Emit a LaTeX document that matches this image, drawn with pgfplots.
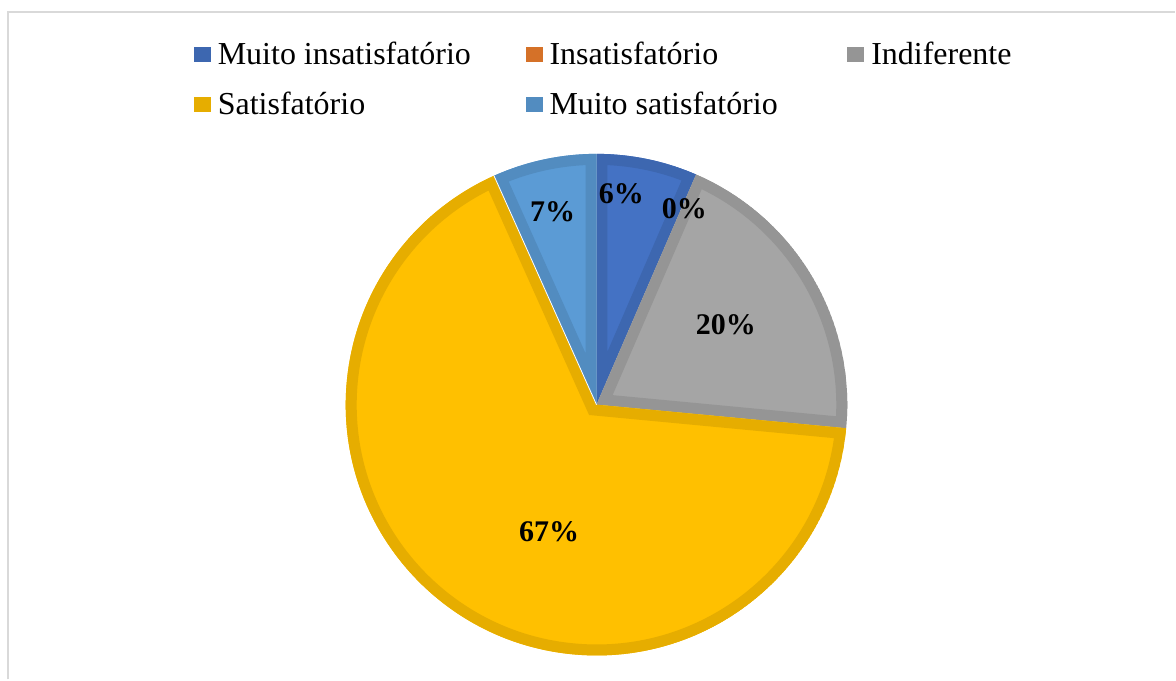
\documentclass[border=0pt]{standalone}
\usepackage{fontspec}
\setmainfont{Liberation Serif}
\usepackage{pgfplots}
\pgfplotsset{compat=1.18}

\definecolor{c1}{HTML}{4472C4}\definecolor{c1d}{HTML}{3D67B0}
\definecolor{c2}{HTML}{ED7D31}\definecolor{c2d}{HTML}{D57128}
\definecolor{c3}{HTML}{A5A5A5}\definecolor{c3d}{HTML}{959595}
\definecolor{c4}{HTML}{FFC000}\definecolor{c4d}{HTML}{E6AD00}
\definecolor{c5}{HTML}{5B9BD5}\definecolor{c5d}{HTML}{528CC0}
\definecolor{framegray}{HTML}{D9D9D9}

% data (percent)
\def\vA{6.5}  % Muito insatisfatorio
\def\vB{0}    % Insatisfatorio
\def\vC{20}   % Indiferente
\def\vD{66.8} % Satisfatorio
\def\vE{6.7}  % Muito satisfatorio

\pgfmathsetmacro\aA{90}
\pgfmathsetmacro\aB{\aA-3.6*\vA}
\pgfmathsetmacro\aC{\aB-3.6*\vB}
\pgfmathsetmacro\aD{\aC-3.6*\vC}
\pgfmathsetmacro\aE{\aD-3.6*\vD}
\pgfmathsetmacro\aF{\aE-3.6*\vE}

\newcommand\wedgepath[2]{(axis cs:597,275) -- ++(#1:125.5pt) arc[start angle=#1,end angle=#2,radius=125.5pt] -- cycle}
\newcommand\pieslice[4]{%
  \begin{scope}
    \clip \wedgepath{#1}{#2};
    \fill[#3] \wedgepath{#1}{#2};
    \draw[#4, line width=11pt, line join=miter] \wedgepath{#1}{#2};
  \end{scope}}

\begin{document}
\begin{tikzpicture}
\begin{axis}[
  width=588pt, height=340pt, scale only axis,
  xmin=0, xmax=1176, ymin=0, ymax=680,
  hide axis, clip=false,
  legend columns=3,
  legend cell align=left,
  legend image code/.code={\fill[#1] (0pt,-2.25pt) rectangle (8.5pt,5.25pt); \path[fill=none,draw=none] (0pt,-2.25pt) rectangle (12pt,5.25pt);},
  legend style={draw=none, fill=none, at={(axis cs:194,637)}, anchor=north west,
    font=\fontsize{16}{19}\selectfont, inner sep=0pt, outer sep=0pt,
    row sep=10pt, column sep=0pt,
    nodes={inner sep=0pt, outer sep=0pt, text height=11pt, text depth=4pt}},
]
\addlegendimage{fill=c1d, draw=none}
\addlegendentry{\makebox[154pt][l]{Muito insatisfatório}}
\addlegendimage{fill=c2d, draw=none}
\addlegendentry{\makebox[149pt][l]{Insatisfatório}}
\addlegendimage{fill=c3d, draw=none}
\addlegendentry{Indiferente}
\addlegendimage{fill=c4d, draw=none}
\addlegendentry{\makebox[154pt][l]{Satisfatório}}
\addlegendimage{fill=c5d, draw=none}
\addlegendentry{\makebox[149pt][l]{Muito satisfatório}}

\pgfplotsextra{
  \path (axis cs:0,0) rectangle (axis cs:1176,680);
  \draw[framegray, line width=1pt] (axis cs:8,0) -- (axis cs:8,668) -- (axis cs:1176,668);
  \pieslice{\aA}{\aB}{c1}{c1d}
  \pieslice{\aC}{\aD}{c3}{c3d}
  \pieslice{\aD}{\aE}{c4}{c4d}
  \pieslice{\aE}{\aF}{c5}{c5d}
  \draw[white, line width=0.4pt] (axis cs:597,275) -- ++(\aE:125.5pt);
  \begin{scope}[every node/.style={anchor=base, font=\bfseries\fontsize{15}{18}\selectfont, inner sep=0pt}]
    \node at (axis cs:622,476) {6\%};
    \node at (axis cs:685,461) {0\%};
    \node at (axis cs:553,458) {7\%};
    \node at (axis cs:726.5,345) {20\%};
    \node at (axis cs:549.5,138) {67\%};
  \end{scope}
}
\end{axis}
\end{tikzpicture}
\end{document}
